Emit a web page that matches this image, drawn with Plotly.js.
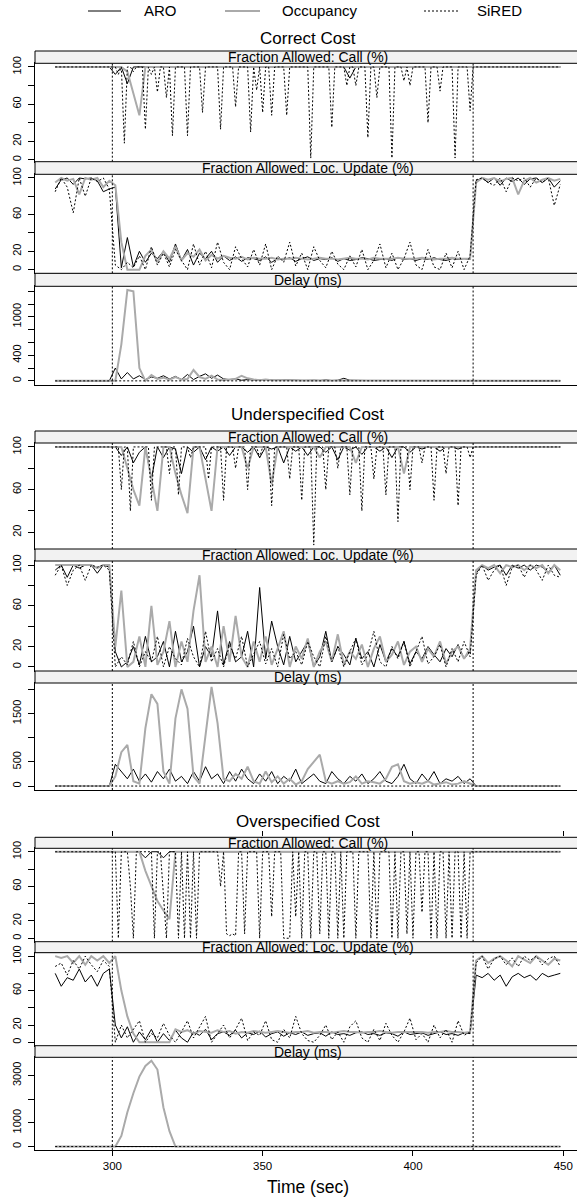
<!DOCTYPE html>
<html><head><meta charset="utf-8">
<script src="https://cdn.plot.ly/plotly-3.0.1.min.js"></script>
<style>html,body{margin:0;padding:0;overflow:hidden;background:#fff}#chart{width:582px;height:1198px}</style>
</head><body><div id="chart"></div>
<script>
// ---------------- DATA ----------------
const time = [281,283,285,287,289,291,293,295,297,299,
301,303,305,307,309,311,313,315,317,319,
321,323,325,327,329,331,333,335,337,339,
341,343,345,347,349,351,353,355,357,359,
361,363,365,367,369,371,373,375,377,379,
381,383,385,387,389,391,393,395,397,399,
401,403,405,407,409,411,413,415,417,419,
421,423,425,427,429,431,433,435,437,439,
441,443,445,447,449];
// one-second samples (used for the spiky SiRED call series)
const timeFine = [281,282,283,284,285,286,287,288,289,290,
291,292,293,294,295,296,297,298,299,300,
301,302,303,304,305,306,307,308,309,310,
311,312,313,314,315,316,317,318,319,320,
321,322,323,324,325,326,327,328,329,330,
331,332,333,334,335,336,337,338,339,340,
341,342,343,344,345,346,347,348,349,350,
351,352,353,354,355,356,357,358,359,360,
361,362,363,364,365,366,367,368,369,370,
371,372,373,374,375,376,377,378,379,380,
381,382,383,384,385,386,387,388,389,390,
391,392,393,394,395,396,397,398,399,400,
401,402,403,404,405,406,407,408,409,410,
411,412,413,414,415,416,417,418,419,420,
421,422,423,424,425,426,427,428,429,430,
431,432,433,434,435,436,437,438,439,440,
441,442,443,444,445,446,447,448,449];

const seriesNames = ['ARO','Occupancy','SiRED'];
const groupTitles = ['Correct Cost','Underspecified Cost','Overspecified Cost'];
const stripLabels = ['Fraction Allowed: Call (%)','Fraction Allowed: Loc. Update (%)','Delay (ms)'];
const refTimes = [300, 420];
const xTickVals = [300, 350, 400, 450];
const xTickText = ['300','350','400','450'];
const xLabel = 'Time (sec)';

// Correct Cost
const correctCallARO = [100,100,100,100,100,100,100,100,100,100,
92,100,82,100,100,100,100,100,100,100,
100,100,100,100,100,100,100,100,100,100,
100,100,100,100,100,100,100,100,100,100,
100,100,100,100,100,100,100,100,100,88,
100,100,100,100,100,100,100,100,100,100,
100,100,100,100,100,100,100,100,100,100,
100,100,100,100,100,100,100,100,100,100,
100,100,100,100,100];
const correctCallOcc = [100,100,100,100,100,100,100,100,100,100,
100,100,95,70,48,100,100,100,100,100,
100,100,100,100,100,100,100,100,100,100,
100,100,100,100,100,100,100,100,100,100,
100,100,100,100,100,100,100,100,100,100,
100,100,100,100,100,100,100,100,100,100,
100,100,100,100,100,100,100,100,100,100,
100,100,100,100,100,100,100,100,100,100,
100,100,100,100,100];
const correctCallSiRED = [100,100,100,100,100,100,100,100,100,100,
100,100,100,100,100,100,100,100,100,100,
100,92,100,18,100,100,95,100,100,100,
33,100,92,100,73,100,100,67,100,26,
100,100,100,100,26,100,100,100,100,51,
100,100,100,100,100,33,100,100,100,100,
57,100,100,100,100,30,100,75,100,51,
100,100,48,100,100,100,100,48,100,100,
100,100,100,100,100,2,100,100,100,100,
100,100,35,100,100,100,100,80,100,100,
80,100,100,100,24,100,100,67,100,100,
100,100,2,100,100,100,85,100,80,100,
100,100,100,100,40,100,100,100,74,100,
100,100,100,2,100,100,100,100,53,100,
100,100,100,100,100,100,100,100,100,100,
100,100,100,100,100,100,100,100,100,100,
100,100,100,100,100,100,100,100,100];

const correctLocARO = [88,98,100,93,100,99,100,97,85,88,
90,2,35,3,20,8,18,12,20,8,
28,10,22,5,18,12,20,8,15,10,
14,9,13,12,10,14,8,12,11,13,
9,12,14,10,12,11,13,9,12,10,
11,13,12,10,11,12,10,13,11,12,
10,12,11,13,11,10,12,11,12,11,
97,100,95,100,92,100,96,100,93,99,
100,95,100,90,97];
const correctLocOcc = [95,100,97,99,82,100,98,100,90,97,
92,30,0,0,0,15,22,8,20,12,
25,10,18,14,22,10,16,12,15,13,
12,14,11,13,12,12,13,11,12,12,
13,12,11,12,13,12,12,11,12,13,
12,12,11,13,12,12,12,13,12,12,
12,13,12,11,12,12,13,12,12,12,
95,100,98,100,96,99,100,82,97,100,
95,98,100,97,99];
const correctLocSiRED = [85,100,90,62,100,80,100,96,100,88,
5,0,8,2,15,0,25,5,18,3,
22,10,0,28,5,20,2,30,8,0,
25,12,3,22,5,28,0,15,8,30,
4,18,0,25,10,2,20,6,0,15,
3,22,0,10,28,2,18,0,12,30,
5,0,22,3,0,18,2,20,0,15,
98,100,95,92,100,85,100,97,100,90,
100,95,100,70,93];

const correctDelayARO = [0,0,0,0,0,0,0,0,0,0,
200,30,130,30,80,20,60,40,80,30,
70,20,100,20,70,110,40,90,30,20,
30,10,20,15,10,20,10,5,15,10,
5,10,5,10,5,15,5,10,40,10,
5,10,5,5,10,5,5,10,5,5,
5,5,10,5,5,5,10,5,5,5,
0,0,0,0,0,0,0,0,0,0,
0,0,0,0,0];
const correctDelayOcc = [0,0,0,0,0,0,0,0,0,0,
0,570,1420,1400,200,0,90,30,50,20,
60,20,30,170,60,30,80,20,10,20,
30,80,40,20,10,20,10,15,10,5,
10,5,10,5,10,5,5,10,5,5,
5,5,10,5,5,5,5,5,5,5,
5,5,5,5,5,5,5,5,5,5,
0,0,0,0,0,0,0,0,0,0,
0,0,0,0,0];
const correctDelaySiRED = [0,0,0,0,0,0,0,0,0,0,
0,0,0,0,0,0,0,0,0,0,
0,0,0,0,0,0,0,0,0,0,
0,0,0,0,0,0,0,0,0,0,
0,0,0,0,0,0,0,0,0,0,
0,0,0,0,0,0,0,0,0,0,
0,0,0,0,0,0,0,0,0,0,
0,0,0,0,0,0,0,0,0,0,
0,0,0,0,0];

// Underspecified Cost
const underCallARO = [100,100,100,100,100,100,100,100,100,100,
100,92,100,85,95,100,70,100,90,100,
98,75,100,95,100,88,100,96,100,92,
100,100,95,100,90,100,98,100,85,100,
96,100,92,100,100,95,100,88,100,97,
100,93,100,100,96,100,90,100,100,95,
100,98,100,100,96,100,100,98,100,100,
100,100,100,100,100,100,100,100,100,100,
100,100,100,100,100];
const underCallOcc = [100,100,100,100,100,100,100,100,100,100,
100,100,80,60,45,100,70,40,100,100,
75,55,38,100,100,70,40,100,100,100,
100,100,80,100,100,100,65,100,100,100,
100,100,100,100,90,100,100,100,100,100,
85,100,100,100,100,100,100,100,75,100,
100,100,100,100,100,100,100,100,100,100,
100,100,100,100,100,100,100,100,100,100,
100,100,100,100,100];
const underCallSiRED = [100,100,100,100,100,100,100,100,100,100,
100,100,100,100,100,100,100,100,100,100,
100,100,60,100,100,40,100,100,100,100,
100,100,50,100,100,100,100,100,75,100,
100,55,100,100,100,90,100,100,100,100,
100,70,100,100,100,100,50,100,100,100,
80,100,100,100,60,100,100,100,90,100,
100,100,45,100,100,100,100,100,70,100,
100,100,50,100,100,100,8,100,100,100,
60,100,100,100,80,100,100,100,55,100,
100,100,40,100,100,100,70,100,100,100,
55,100,100,100,30,100,100,100,60,100,
100,100,85,100,100,100,50,100,100,100,
75,100,100,100,45,100,100,100,90,100,
100,100,100,100,100,100,100,100,100,100,
100,100,100,100,100,100,100,100,100,100,
100,100,100,100,100,100,100,100,100];

const underLocARO = [95,100,88,100,97,100,100,92,100,98,
15,0,5,20,2,30,5,10,25,0,
35,5,15,40,0,20,10,55,2,25,
5,10,35,0,78,8,45,20,2,30,
5,15,25,0,10,35,5,20,12,2,
28,8,15,0,22,5,18,10,25,3,
15,8,20,12,5,18,10,22,8,15,
92,100,95,98,100,90,100,97,100,95,
100,98,93,100,90];
const underLocOcc = [100,100,100,100,100,100,100,97,100,100,
20,75,0,5,30,0,60,2,15,45,
0,25,5,55,90,5,20,0,40,5,
50,10,0,25,5,30,2,18,35,0,
20,8,28,0,15,25,5,32,2,15,
8,22,0,18,30,5,12,25,2,15,
20,5,18,10,25,3,15,20,8,18,
95,100,97,100,92,100,98,100,95,100,
97,100,92,100,95];
const underLocSiRED = [90,100,80,95,100,85,100,98,100,95,
0,10,2,25,0,15,5,30,0,20,
8,2,28,10,0,35,5,18,0,22,
8,30,0,12,25,3,18,0,32,8,
15,2,25,10,0,30,5,20,0,15,
28,2,12,35,5,0,20,8,25,0,
15,30,3,10,22,0,18,5,25,10,
90,100,85,95,100,80,98,100,88,100,
95,85,100,90,88];

const underDelayARO = [0,0,0,0,0,0,0,0,0,0,
450,300,150,350,100,250,80,300,150,350,
100,200,50,300,100,400,150,250,50,300,
100,350,150,50,250,100,300,50,200,100,
350,50,150,250,100,50,300,150,50,200,
100,250,50,150,300,100,50,200,450,150,
50,250,100,300,50,150,100,200,50,150,
0,0,0,0,0,0,0,0,0,0,
0,0,0,0,0];
const underDelayOcc = [0,0,0,0,0,0,0,0,0,0,
200,700,850,100,50,1200,1900,1700,300,50,
1400,2000,1600,200,50,1100,2050,1300,150,100,
250,150,400,100,50,300,80,200,50,150,
30,100,350,500,650,100,50,100,50,80,
200,50,100,80,50,150,400,450,100,50,
80,50,100,30,50,80,30,50,100,50,
0,0,0,0,0,0,0,0,0,0,
0,0,0,0,0];
const underDelaySiRED = [0,0,0,0,0,0,0,0,0,0,
0,0,0,0,0,0,0,0,0,0,
0,0,0,0,0,0,0,0,0,0,
0,0,0,0,0,0,0,0,0,0,
0,0,0,0,0,0,0,0,0,0,
0,0,0,0,0,0,0,0,0,0,
0,0,0,0,0,0,0,0,0,0,
0,0,0,0,0,0,0,0,0,0,
0,0,0,0,0];

// Overspecified Cost
const overCallARO = [100,100,100,100,100,100,100,100,100,100,
100,100,100,100,100,93,100,100,93,100,
100,100,100,100,100,100,100,100,100,100,
100,100,100,100,100,100,100,100,100,100,
100,100,100,100,100,100,100,100,100,100,
100,100,100,100,100,100,100,100,100,100,
100,100,100,100,100,100,100,100,100,100,
100,100,100,100,100,100,100,100,100,100,
100,100,100,100,100];
const overCallOcc = [100,100,100,100,100,100,100,100,100,100,
100,100,100,100,100,78,60,43,32,22,
100,100,100,100,100,100,100,100,100,100,
100,100,100,100,100,100,100,100,100,100,
100,100,100,100,100,100,100,100,100,100,
100,100,100,100,100,100,100,100,100,100,
100,100,100,100,100,100,100,100,100,100,
100,100,100,100,100,100,100,100,100,100,
100,100,100,100,100];
const overCallSiRED = [100,100,100,100,100,100,100,100,100,100,
100,100,100,100,100,100,100,100,100,100,
100,0,100,100,100,60,0,100,100,100,
100,100,100,0,100,100,45,0,100,100,
100,0,100,0,100,0,100,0,100,100,
100,100,100,100,100,60,100,5,3,5,
3,100,100,5,100,100,100,100,0,100,
100,100,25,100,100,100,0,0,0,100,
25,100,0,100,100,0,100,100,5,100,
100,0,100,100,0,100,0,100,100,100,
0,100,100,100,100,0,100,0,100,100,
100,100,0,100,0,100,100,5,100,0,
100,100,30,100,100,0,100,0,100,100,
0,100,0,100,100,0,100,0,100,100,
100,100,100,100,100,100,100,100,100,100,
100,100,100,100,100,100,100,100,100,100,
100,100,100,100,100,100,100,100,100];

const overLocARO = [80,65,75,72,85,70,78,65,80,85,
20,5,18,0,12,3,15,0,10,2,
14,5,0,12,8,15,3,10,12,8,
14,5,11,9,13,6,10,12,7,11,
9,12,8,10,11,7,12,9,10,8,
11,12,9,10,8,11,10,7,12,9,
10,11,8,10,12,9,10,8,11,10,
78,75,80,72,78,65,76,80,75,78,
72,80,76,78,80];
const overLocOcc = [100,98,100,92,100,90,100,95,100,92,
100,60,30,10,0,0,0,0,0,0,
15,12,14,10,13,12,11,14,12,13,
10,12,11,13,12,11,12,13,12,11,
12,12,13,11,12,12,11,12,13,12,
12,11,12,12,13,12,11,12,12,12,
12,12,11,12,12,13,12,12,11,12,
95,100,92,97,100,95,88,100,96,92,
100,95,90,97,95];
const overLocSiRED = [88,92,78,95,85,100,90,82,95,88,
0,20,5,15,25,0,10,5,22,8,
0,12,25,5,18,30,0,10,20,5,
15,28,2,12,8,25,3,0,15,5,
30,10,2,0,8,20,3,12,0,18,
25,5,0,15,2,22,8,0,12,28,
3,10,0,20,5,15,0,25,8,12,
92,100,85,97,100,90,98,88,100,95,
100,90,97,100,88];

const overDelayARO = [0,0,0,0,0,0,0,0,0,0,
30,20,10,0,0,0,0,0,0,0,
0,0,0,0,0,0,0,0,0,0,
0,0,0,0,0,0,0,0,0,0,
0,0,0,0,0,0,0,0,0,0,
0,0,0,0,0,0,0,0,0,0,
0,0,0,0,0,0,0,0,0,0,
0,0,0,0,0,0,0,0,0,0,
0,0,0,0,0];
const overDelayOcc = [0,0,0,0,0,0,0,0,0,0,
0,450,1450,2250,2950,3400,3620,3250,1650,650,
0,0,0,0,0,0,0,0,0,0,
0,0,0,0,0,0,0,0,0,0,
0,0,0,0,0,0,0,0,0,0,
0,0,0,0,0,0,0,0,0,0,
0,0,0,0,0,0,0,0,0,0,
0,0,0,0,0,0,0,0,0,0,
0,0,0,0,0];
const overDelaySiRED = [0,0,0,0,0,0,0,0,0,0,
0,20,20,20,20,20,20,20,20,20,
20,0,0,0,0,0,0,0,0,0,
0,0,0,0,0,0,0,0,0,0,
0,0,0,0,0,0,0,0,0,0,
0,0,0,0,0,0,0,0,0,0,
0,0,0,0,0,0,0,0,0,0,
0,0,0,0,0,0,0,0,0,0,
0,0,0,0,0];

// y tick definitions
const callTickVals = [0,20,40,60,80,100];
const callTickText = ['0','20','','60','','100'];
const callTickVals2 = [20,40,60,80,100];
const callTickText2 = ['20','','60','','100'];
const delayTickVals1 = [0,200,400,600,800,1000,1200,1400];
const delayTickText1 = ['0','','400','','','1000','',''];
const delayTickVals2 = [0,500,1000,1500,2000];
const delayTickText2 = ['0','500','','1500',''];
const delayTickVals3 = [0,1000,2000,3000];
const delayTickText3 = ['0','1000','','3000'];

const panelSeries = [
  [correctCallARO, correctCallOcc, correctCallSiRED],
  [correctLocARO, correctLocOcc, correctLocSiRED],
  [correctDelayARO, correctDelayOcc, correctDelaySiRED],
  [underCallARO, underCallOcc, underCallSiRED],
  [underLocARO, underLocOcc, underLocSiRED],
  [underDelayARO, underDelayOcc, underDelaySiRED],
  [overCallARO, overCallOcc, overCallSiRED],
  [overLocARO, overLocOcc, overLocSiRED],
  [overDelayARO, overDelayOcc, overDelaySiRED]
];
const panelTicks = [
  [callTickVals, callTickText], [callTickVals, callTickText], [delayTickVals1, delayTickText1],
  [callTickVals2, callTickText2], [callTickVals, callTickText], [delayTickVals2, delayTickText2],
  [callTickVals, callTickText], [callTickVals, callTickText], [delayTickVals3, delayTickText3]
];

// ---------------- LAYOUT / STYLE ----------------
const W = 582, H = 1198;
const X0 = 35, X1 = 580.5;
const FONT = 'Liberation Sans, Arial, Helvetica, sans-serif';
const py = px => 1 - px / H;
const px2x = px => px / W;
// [strip top, plot top, plot bottom] in pixels
const geom = [
  [51, 63.3, 161.7], [161.7, 174.3, 273.3], [273.3, 286.3, 384.5],
  [431, 443, 549], [549, 561, 671], [671, 683, 790],
  [837.3, 848.3, 941.7], [941.7, 952.7, 1045.7], [1045.7, 1057.3, 1150]
];
const titleY = [38.6, 415, 821];
const styles = [
  {color: '#000000', width: 1},
  {color: '#aaaaaa', width: 2},
  {color: '#000000', width: 1, dash: '2px,2px'}
];

const xDataMin = Math.min(...time), xDataMax = Math.max(...time);
const xPad = 0.04 * (xDataMax - xDataMin);
const xRange = [xDataMin - xPad, xDataMax + xPad];

const traces = [];
const layout = {
  width: W, height: H,
  margin: {l: 0, r: 0, t: 0, b: 0},
  paper_bgcolor: '#fff', plot_bgcolor: '#fff',
  showlegend: false,
  font: {family: FONT, color: '#000'},
  shapes: [], annotations: []
};

panelSeries.forEach((ser, k) => {
  const n = k + 1;
  const xa = 'x' + (n === 1 ? '' : n), ya = 'y' + (n === 1 ? '' : n);
  let lo = Infinity, hi = -Infinity;
  ser.forEach((s, j) => {
    lo = Math.min(lo, ...s); hi = Math.max(hi, ...s);
    const xs = s.length === timeFine.length ? timeFine : time;
    traces.push({x: xs, y: s, type: 'scatter', mode: 'lines', name: seriesNames[j],
      xaxis: xa, yaxis: ya, line: styles[j], hoverinfo: 'skip'});
  });
  const pad = 0.04 * (hi - lo);
  const [st, pt, pb] = geom[k];
  const isBottom = (k === 8);
  layout['xaxis' + (n === 1 ? '' : n)] = {
    domain: [px2x(X0), px2x(X1)], anchor: ya, range: xRange,
    showgrid: false, zeroline: false, showline: true, mirror: true, linecolor: '#000', linewidth: 1,
    ticks: isBottom ? 'outside' : '', ticklen: 5, tickcolor: '#000',
    tickvals: xTickVals, ticktext: xTickText, showticklabels: isBottom,
    tickfont: {size: 11.5, family: FONT, color: '#000'}
  };
  layout['yaxis' + (n === 1 ? '' : n)] = {
    domain: [py(pb), py(pt)], anchor: xa, range: [lo - pad, hi + pad],
    showgrid: false, zeroline: false, showline: true, mirror: true, linecolor: '#000', linewidth: 1,
    ticks: 'outside', ticklen: 6, tickcolor: '#000',
    tickvals: panelTicks[k][0], ticktext: panelTicks[k][1], tickangle: -90,
    ticklabelstandoff: 3,
    tickfont: {size: 11, family: FONT, color: '#000'}
  };
  layout.shapes.push({type: 'rect', xref: 'paper', yref: 'paper', x0: px2x(X0), x1: px2x(X1),
    y0: py(pt), y1: py(st), fillcolor: '#f2f2f2', line: {color: '#000', width: 1}, layer: 'above'});
  layout.annotations.push({xref: 'paper', yref: 'paper', x: px2x((X0 + X1) / 2), y: py((st + pt) / 2),
    text: stripLabels[k % 3], showarrow: false, font: {size: 14, family: FONT, color: '#000'},
    xanchor: 'center', yanchor: 'middle'});
  refTimes.forEach(t => layout.shapes.push({type: 'line', xref: xa, yref: ya + ' domain',
    x0: t, x1: t, y0: 0, y1: 1, line: {color: '#000', width: 1, dash: '2px,2px'}}));
});

groupTitles.forEach((g, i) => layout.annotations.push({xref: 'paper', yref: 'paper',
  x: px2x((X0 + X1) / 2), y: py(titleY[i]), text: g, showarrow: false,
  font: {size: 17, family: FONT, color: '#000'}, xanchor: 'center', yanchor: 'middle'}));

layout.annotations.push({xref: 'paper', yref: 'paper', x: px2x((X0 + X1) / 2), y: py(1187),
  text: xLabel, showarrow: false, font: {size: 17.5, family: FONT, color: '#000'},
  xanchor: 'center', yanchor: 'middle'});

traces.push({x: [], y: [], xaxis: 'x10', yaxis: 'y10', type: 'scatter', mode: 'lines', hoverinfo: 'skip'});
layout.xaxis10 = {domain: [px2x(X0), px2x(X1)], anchor: 'y10', side: 'top', range: xRange,
  showgrid: false, zeroline: false, showline: false, ticks: 'outside', ticklen: 5, tickcolor: '#000',
  tickvals: xTickVals, showticklabels: false};
layout.yaxis10 = {domain: [py(848.3), py(837.3)], anchor: 'x10', visible: false, range: [0, 1]};

const legY = 11;
const legItems = [[88, 121, 160], [225, 260, 320], [424, 459, 500]];
legItems.forEach((it, j) => {
  layout.shapes.push({type: 'line', xref: 'paper', yref: 'paper', x0: px2x(it[0]), x1: px2x(it[1]),
    y0: py(legY), y1: py(legY), line: styles[j]});
  layout.annotations.push({xref: 'paper', yref: 'paper', x: px2x(it[2]), y: py(legY),
    text: seriesNames[j], showarrow: false, font: {size: 15, family: FONT, color: '#000'},
    xanchor: 'center', yanchor: 'middle'});
});

Plotly.newPlot('chart', traces, layout, {displayModeBar: false, staticPlot: true});
</script>
</body></html>
